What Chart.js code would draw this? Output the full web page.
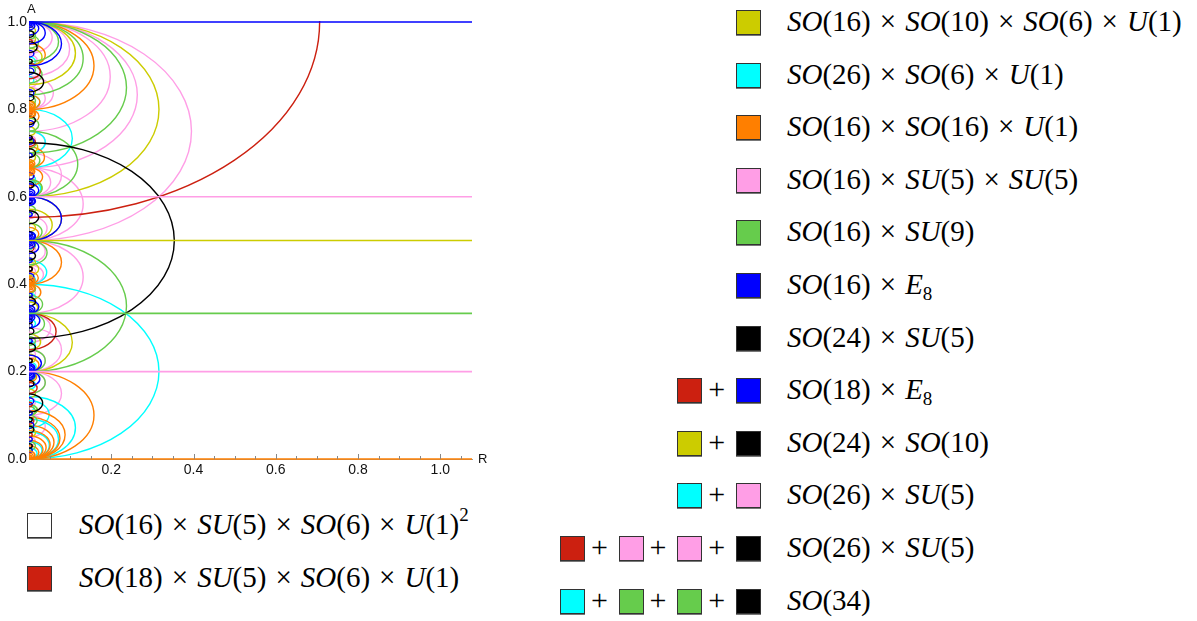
<!DOCTYPE html>
<html>
<head>
<meta charset="utf-8">
<script src="https://cdn.jsdelivr.net/npm/chart.js@4.4.1/dist/chart.umd.min.js"></script>
<style>
  body { margin: 0; background: #fff; width: 1197px; height: 621px; position: relative; overflow: hidden; }
  #plot { position: absolute; left: 0; top: 0; }
  .sw { position: absolute; width: 23px; height: 23px; border: 1px solid #333; box-shadow: 0 1px 0 #777; }
  .plus { position: absolute; font: 30px "Liberation Serif", serif; line-height: 30px; }
  .tx { position: absolute; font: 29px "Liberation Serif", serif; line-height: 34px; white-space: nowrap; }
  .tx i { font-style: italic; }
  .op { margin: 0 9px; }
  sup { font-size: 19px; vertical-align: 13px; line-height: 0; }
  sub { font-size: 19px; vertical-align: -6px; line-height: 0; }
</style>
</head>
<body>
<canvas id="plot" width="490" height="480"></canvas>
<div id="legend"></div>
<script>
// colours used by the plot
const COLORS = {
  yellow: '#cccc00', cyan: '#00ffff', orange: '#ff7f00', pink: '#ff9ee6',
  green: '#66cc4c', blue: '#0000ff', black: '#000000', red: '#cc2010'
};

// horizontal loci (A value, colour)
const lineA = [1.0, 0.6, 0.5, 0.3333, 0.2, 0.0];
const lineColor = ['blue', 'pink', 'yellow', 'green', 'pink', 'orange'];

// half-ellipse loci, given by their two ends on the A axis
const yellowArcs = [[0.6, 1.0], [0.8571, 1.0], [0.2, 0.3333], [0.5, 0.5714], [0.9, 0.94], [0.42, 0.45], [0.7, 0.727], [0.3333, 0.36], [0.1, 0.125], [0.8, 0.82], [0.5, 0.6], [0.6, 0.64], [0.25, 0.2857], [0.05, 0.07], [0.95, 0.97],
  [0.97, 0.99], [0.83, 0.85], [0.74, 0.76], [0.68, 0.7], [0.52, 0.54], [0.44, 0.46], [0.35, 0.37], [0.22, 0.24], [0.14, 0.16]];
const cyanArcs = [[0.0, 0.4], [0.6667, 0.8], [0.0, 0.1429], [0.0, 0.0909], [0.0, 0.0625], [0.0, 0.04], [0.4, 0.4545], [0.6, 0.6364], [0.2, 0.2222], [0.8, 0.8333], [0.5, 0.52], [0.3, 0.32], [0.0714, 0.1333], [0.7, 0.75], [0.4, 0.42], [0.86, 0.875], [0.0, 0.025],
  [0.9, 0.92], [0.78, 0.8], [0.63, 0.65], [0.48, 0.5], [0.36, 0.38], [0.25, 0.27], [0.16, 0.18], [0.11, 0.125]];
const orangeArcs = [[0.0, 0.2], [0.8, 1.0], [0.4, 0.5], [0.0, 0.1111], [0.0, 0.0769], [0.0, 0.0526], [0.0, 0.0303], [0.0, 0.018], [0.6667, 0.7143], [0.625, 0.6667], [0.7692, 0.8], [0.8, 0.8333], [0.3636, 0.4], [0.4, 0.4286], [0.6667, 0.68], [0.65, 0.6667], [0.78, 0.8], [0.8, 0.82], [0.38, 0.4], [0.4, 0.415], [0.2, 0.2308], [0.1765, 0.2], [0.9, 0.95], [0.5, 0.53], [0.0, 0.043], [0.0, 0.065], [0.0, 0.0952]];
const pinkArcs = [[0.5, 1.0], [0.6667, 1.0], [0.75, 1.0], [0.875, 1.0], [0.9286, 1.0], [0.3333, 0.5], [0.2, 0.3], [0.1, 0.2], [0.5, 0.5556], [0.6, 0.7], [0.4, 0.4444], [0.7, 0.75], [0.8, 0.85], [0.2667, 0.3333], [0.05, 0.1], [0.45, 0.5], [0.5, 0.6667], [0.6, 0.6667], [0.2, 0.25], [0.15, 0.2], [0.8, 0.875], [0.9, 0.925],
  [0.93, 0.96], [0.85, 0.875], [0.78, 0.8], [0.72, 0.74], [0.63, 0.65], [0.55, 0.57], [0.47, 0.49], [0.42, 0.44], [0.37, 0.39], [0.27, 0.29], [0.23, 0.25], [0.12, 0.14], [0.03, 0.05]];
const greenArcs = [[0.7, 1.0], [0.8333, 1.0], [0.9091, 1.0], [0.2, 0.5], [0.6, 0.75], [0.4444, 0.5], [0.2, 0.25], [0.15, 0.2], [0.5, 0.54], [0.6, 0.64], [0.86, 0.9], [0.3333, 0.375], [0.75, 0.78], [0.075, 0.1], [0.6667, 0.7], [0.2857, 0.3333], [0.1, 0.125], [0.94, 0.97],
  [0.96, 0.98], [0.88, 0.9], [0.81, 0.83], [0.71, 0.73], [0.62, 0.64], [0.56, 0.58], [0.48, 0.5], [0.38, 0.4], [0.26, 0.28], [0.18, 0.2], [0.1, 0.12], [0.02, 0.04]];
const blueArcs = [[0.9, 1.0], [0.95, 1.0], [0.5, 0.6], [0.6, 0.63], [0.47, 0.5], [0.3333, 0.3636], [0.3, 0.3333], [0.2, 0.2381], [0.1667, 0.2], [0.5, 0.52], [0.58, 0.6], [0.2, 0.215], [0.185, 0.2], [0.97, 1.0], [0.76, 0.775], [0.41, 0.425], [0.125, 0.14], [0.07, 0.085], [0.88, 0.895], [0.69, 0.7], [0.3, 0.31], [0.04, 0.05],
  [0.92, 0.935], [0.83, 0.845], [0.72, 0.735], [0.64, 0.655], [0.555, 0.565], [0.45, 0.46], [0.37, 0.38], [0.265, 0.275], [0.1, 0.11], [0.015, 0.025]];
const blackArcs = [[0.2764, 0.7236], [0.84, 0.885], [0.107, 0.149], [0.538, 0.568], [0.93, 0.955], [0.765, 0.785], [0.69, 0.71], [0.455, 0.475], [0.35, 0.37], [0.245, 0.265], [0.06, 0.075], [0.965, 0.98], [0.62, 0.635], [0.82, 0.835], [0.4, 0.41], [0.165, 0.18], [0.285, 0.3], [0.905, 0.915], [0.73, 0.74], [0.585, 0.595], [0.51, 0.52], [0.43, 0.44], [0.31, 0.32], [0.22, 0.23], [0.085, 0.095], [0.025, 0.035]];
const redArcs = [[0.5528, 1.4472], [0.25, 0.3333], [0.87, 0.905], [0.15, 0.175], [0.715, 0.735], [0.475, 0.49], [0.64, 0.655], [0.08, 0.095],
  [0.95, 0.96], [0.79, 0.8], [0.62, 0.63], [0.43, 0.44], [0.32, 0.33], [0.22, 0.23], [0.12, 0.13], [0.05, 0.06]];

// crowded meeting points on the A axis, drawn as stacks of tiny arcs
const cuspA = [1.0, 0.8, 0.6667, 0.6, 0.5, 0.4, 0.3333, 0.2, 0.0];
const cuspColor = ['blue', 'orange', 'orange', 'blue', 'blue', 'orange', 'blue', 'blue', 'orange'];
const cuspSizes = [0.003, 0.006, 0.009, 0.013, 0.018];

// R-extent of every arc divided by its half length in A (same for all arcs)
const ELLIPSE_RATIO = 1.58;

const arcGroups = [
  ['pink', pinkArcs], ['cyan', cyanArcs], ['orange', orangeArcs], ['yellow', yellowArcs],
  ['green', greenArcs], ['red', redArcs], ['blue', blueArcs], ['black', blackArcs]
];

const R_MAX = 1.077;
const xTicks = [0.2, 0.4, 0.6, 0.8, 1.0];
const yTicks = [0.0, 0.2, 0.4, 0.6, 0.8, 1.0];
const minorX = [0.05, 0.1, 0.15, 0.25, 0.3, 0.35, 0.45, 0.5, 0.55, 0.65, 0.7, 0.75, 0.85, 0.9, 0.95, 1.05];

// legend entries
const X = '<span class="op">×</span>';
const rightLegend = [
  [['yellow'], `<i>SO</i>(16)${X}<i>SO</i>(10)${X}<i>SO</i>(6)${X}<i>U</i>(1)`],
  [['cyan'], `<i>SO</i>(26)${X}<i>SO</i>(6)${X}<i>U</i>(1)`],
  [['orange'], `<i>SO</i>(16)${X}<i>SO</i>(16)${X}<i>U</i>(1)`],
  [['pink'], `<i>SO</i>(16)${X}<i>SU</i>(5)${X}<i>SU</i>(5)`],
  [['green'], `<i>SO</i>(16)${X}<i>SU</i>(9)`],
  [['blue'], `<i>SO</i>(16)${X}<i>E</i><sub>8</sub>`],
  [['black'], `<i>SO</i>(24)${X}<i>SU</i>(5)`],
  [['red', 'blue'], `<i>SO</i>(18)${X}<i>E</i><sub>8</sub>`],
  [['yellow', 'black'], `<i>SO</i>(24)${X}<i>SO</i>(10)`],
  [['cyan', 'pink'], `<i>SO</i>(26)${X}<i>SU</i>(5)`],
  [['red', 'pink', 'pink', 'black'], `<i>SO</i>(26)${X}<i>SU</i>(5)`],
  [['cyan', 'green', 'green', 'black'], `<i>SO</i>(34)`]
];
const leftLegend = [
  ['#ffffff', `<i>SO</i>(16)${X}<i>SU</i>(5)${X}<i>SO</i>(6)${X}<i>U</i>(1)<sup>2</sup>`],
  [COLORS.red, `<i>SO</i>(18)${X}<i>SU</i>(5)${X}<i>SO</i>(6)${X}<i>U</i>(1)`]
];

function buildLegend() {
  const box = document.getElementById('legend');
  let html = '';
  rightLegend.forEach(([cols, label], i) => {
    const cy = 22 + i * 52.6;
    cols.slice().reverse().forEach((c, j) => {
      const left = 736 - j * 58.7;
      html += `<div class="sw" style="left:${left}px;top:${cy - 12}px;background:${COLORS[c]}"></div>`;
      if (j > 0) html += `<div class="plus" style="left:${left + 31}px;top:${cy - 16}px">+</div>`;
    });
    html += `<div class="tx" style="left:787px;top:${cy - 18}px">${label}</div>`;
  });
  leftLegend.forEach(([col, label], i) => {
    const cy = 525 + i * 53;
    html += `<div class="sw" style="left:27px;top:${cy - 12}px;background:${col}"></div>`;
    html += `<div class="tx" style="left:79px;top:${cy - 18}px">${label}</div>`;
  });
  box.innerHTML = html;
}

function strokeHalfEllipse(ctx, x, y, lo, hi) {
  const mid = (lo + hi) / 2;
  const half = (hi - lo) / 2;
  const cx = x.getPixelForValue(0);
  const cy = y.getPixelForValue(mid);
  const rx = x.getPixelForValue(half * ELLIPSE_RATIO) - cx;
  const ry = cy - y.getPixelForValue(mid + half);
  ctx.beginPath();
  ctx.ellipse(cx, cy, rx, ry, 0, -Math.PI / 2, Math.PI / 2);
  ctx.stroke();
}

// draws the half ellipses through the chart scales
const arcPlugin = {
  id: 'arcs',
  beforeDatasetsDraw(chart) {
    const { ctx, chartArea, scales: { x, y } } = chart;
    ctx.save();
    ctx.beginPath();
    ctx.rect(chartArea.left, chartArea.top - 1, chartArea.right - chartArea.left, chartArea.bottom - chartArea.top + 2);
    ctx.clip();
    ctx.lineWidth = 1.4;
    arcGroups.forEach(([col, arcs]) => {
      ctx.strokeStyle = COLORS[col];
      arcs.forEach(([lo, hi]) => strokeHalfEllipse(ctx, x, y, lo, hi));
    });
    cuspA.forEach((a, i) => {
      ctx.strokeStyle = COLORS[cuspColor[i]];
      cuspSizes.forEach(d => {
        strokeHalfEllipse(ctx, x, y, a, a + d);
        strokeHalfEllipse(ctx, x, y, a - d, a);
      });
    });
    ctx.restore();
  },
  afterDraw(chart) {
    const { ctx, chartArea, scales: { x } } = chart;
    ctx.save();
    // small inward ticks like the original axes
    ctx.strokeStyle = '#888';
    ctx.lineWidth = 1;
    minorX.concat(xTicks).forEach(v => {
      const px = Math.round(x.getPixelForValue(v)) + 0.5;
      const len = xTicks.includes(v) ? 5 : 3;
      ctx.beginPath();
      ctx.moveTo(px, chartArea.bottom);
      ctx.lineTo(px, chartArea.bottom - len);
      ctx.stroke();
    });
    ctx.fillStyle = '#111';
    ctx.font = '13px "Liberation Sans", Arial, sans-serif';
    ctx.textAlign = 'left';
    ctx.textBaseline = 'alphabetic';
    ctx.fillText('A', chartArea.left - 2, chartArea.top - 9);
    ctx.fillText('R', chartArea.right + 6, chartArea.bottom + 4);
    ctx.restore();
  }
};

const datasets = lineA.map((a, i) => ({
  data: [{ x: 0, y: a }, { x: R_MAX, y: a }],
  showLine: true,
  borderColor: COLORS[lineColor[i]],
  borderWidth: 1.6,
  pointRadius: 0,
  clip: 2
}));

buildLegend();

const tickFont = { size: 14, family: '"Liberation Sans", Arial, sans-serif' };

new Chart(document.getElementById('plot').getContext('2d'), {
  type: 'scatter',
  data: { datasets },
  options: {
    responsive: false,
    animation: false,
    layout: { padding: { top: 22, right: 18, left: 0, bottom: 0 } },
    plugins: { legend: { display: false }, tooltip: { enabled: false } },
    scales: {
      x: {
        min: 0, max: R_MAX,
        grid: { display: false, drawTicks: false, tickLength: 0 },
        border: { color: '#999' },
        afterBuildTicks: s => { s.ticks = xTicks.map(v => ({ value: v })); },
        ticks: {
          padding: 3, color: '#111', maxRotation: 0, autoSkip: false, font: tickFont,
          callback: v => v.toFixed(1)
        },
        afterFit: s => { s.height = 21; }
      },
      y: {
        min: 0, max: 1,
        grid: { display: false, drawTicks: false, tickLength: 0 },
        border: { color: '#999' },
        afterBuildTicks: s => { s.ticks = yTicks.map(v => ({ value: v })); },
        ticks: {
          padding: 2, color: '#111', autoSkip: false, font: tickFont,
          callback: v => v.toFixed(1)
        },
        afterFit: s => { s.width = 29; }
      }
    }
  },
  plugins: [arcPlugin]
});
</script>
</body>
</html>
